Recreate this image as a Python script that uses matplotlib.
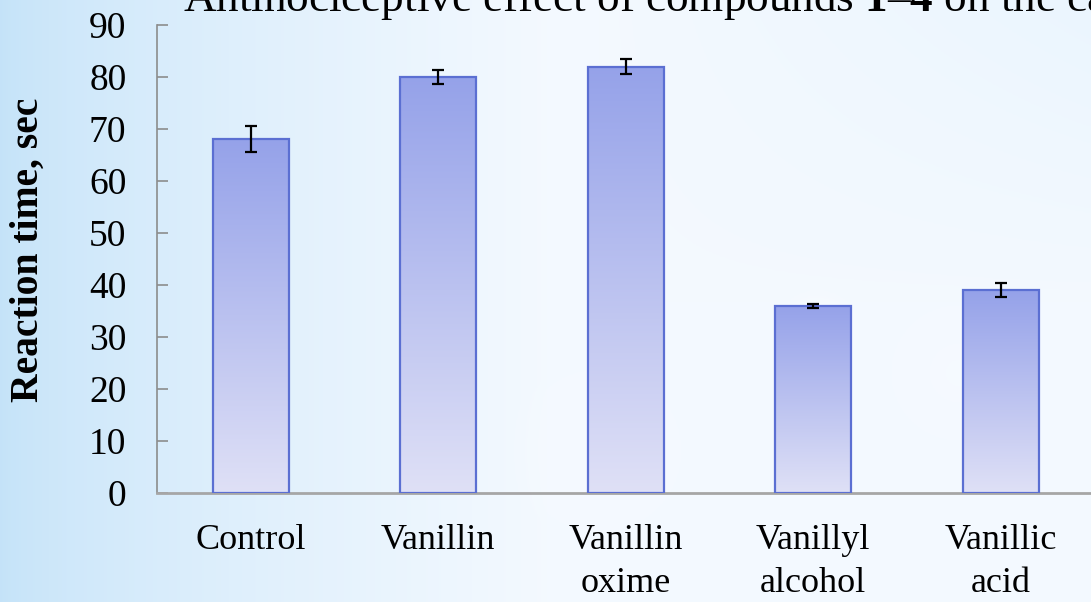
import numpy as np
import matplotlib
matplotlib.use('Agg')
import matplotlib.pyplot as plt

compounds = ['Control', 'Vanillin', 'Vanillin\noxime', 'Vanillyl\nalcohol', 'Vanillic\nacid']
reaction_time = [68, 80, 82, 36, 39]
errors = [2.5, 1.3, 1.5, 0.4, 1.4]
yticks = [0, 10, 20, 30, 40, 50, 60, 70, 80, 90]

plt.rcParams['font.family'] = ['Liberation Serif', 'DejaVu Serif']
plt.rcParams['mathtext.fontset'] = 'custom'
plt.rcParams['mathtext.rm'] = 'Liberation Serif'
plt.rcParams['mathtext.bf'] = 'Liberation Serif:bold'

W, H = 1091, 602
fig = plt.figure(figsize=(W / 100, H / 100), dpi=100)

# background: light blue on the left fading to near white
bg = fig.add_axes([0, 0, 1, 1], zorder=-10)
xx, yy = np.meshgrid(np.linspace(0, 1, 400), np.linspace(0, 1, 220))
left = np.array([0.77, 0.89, 0.975])
white = np.array([0.955, 0.977, 1.0])
t = np.clip(xx / 0.5, 0, 1) ** 0.7
img = left * (1 - t[..., None]) + white * t[..., None]
# slight blue tint in the upper right
tint = np.clip((xx - 0.55) / 0.45, 0, 1) * np.clip(1 - yy / 0.5, 0, 1)
img = img * (1 - 0.45 * tint[..., None]) + np.array([0.88, 0.945, 0.995]) * 0.45 * tint[..., None]
# soft bokeh spots
for cx, cy, r, a in [(0.75, 0.55, 0.07, 0.5), (0.88, 0.62, 0.12, 0.25), (0.55, 0.75, 0.15, 0.2)]:
    d = np.sqrt(((xx - cx) * W / H) ** 2 + (yy - cy) ** 2)
    m = np.clip(1 - d / r, 0, 1) ** 0.5 * a
    img = img * (1 - m[..., None]) + np.array([0.985, 0.992, 1.0]) * m[..., None]
bg.imshow(img, aspect='auto', extent=(0, 1, 0, 1), origin='upper')
bg.set_xlim(0, 1)
bg.set_ylim(0, 1)
bg.axis('off')

ax = fig.add_axes([157 / W, 109 / H, 937.5 / W, 468 / H])
ax.set_facecolor('none')

x = np.arange(len(compounds))
width = 0.405
bars = ax.bar(x, reaction_time, width, facecolor='none', edgecolor='#5b6fd2', linewidth=1.6, zorder=3)

# vertical gradient fill inside each bar
grad = np.linspace(0, 1, 256)[:, None]
top_c = np.array([0.585, 0.635, 0.915])
bot_c = np.array([0.875, 0.88, 0.965])
gimg = top_c * (1 - grad[..., None]) + bot_c * grad[..., None]
for b in bars:
    ax.imshow(gimg, aspect='auto', origin='upper', zorder=2,
              extent=(b.get_x(), b.get_x() + b.get_width(), 0, b.get_height()))

ax.errorbar(x, reaction_time, yerr=errors, fmt='none', ecolor='black',
            elinewidth=1.6, capsize=4.5, capthick=1.6, zorder=4)

ax.set_xlim(-0.5, 4.5)
ax.set_ylim(0, 90)
ax.set_yticks(yticks)
ax.set_xticks(x)
ax.set_xticklabels(compounds, fontsize=26, linespacing=1.42, va='top')
ax.tick_params(axis='x', length=0, pad=22)
ax.tick_params(axis='y', direction='in', length=8, width=1.2, color='#8c8c8c',
               labelsize=27, pad=22)

for s in ['top', 'right']:
    ax.spines[s].set_visible(False)
ax.spines['left'].set_color('#8c8c8c')
ax.spines['left'].set_linewidth(1.2)
ax.spines['bottom'].set_color('#a6a6a6')
ax.spines['bottom'].set_linewidth(2)

fig.text(28 / W, 1 - 250 / H, 'Reaction time, sec', rotation=90, ha='center', va='center',
         fontsize=28.5, fontweight='bold')

fig.text(183 / W, 1 - 11 / H,
         r'Antinociceptive effect of compounds $\mathbf{1}$–$\mathbf{4}$ on the cap',
         ha='left', va='baseline', fontsize=32.5)

fig.savefig('out.png', dpi=100)
